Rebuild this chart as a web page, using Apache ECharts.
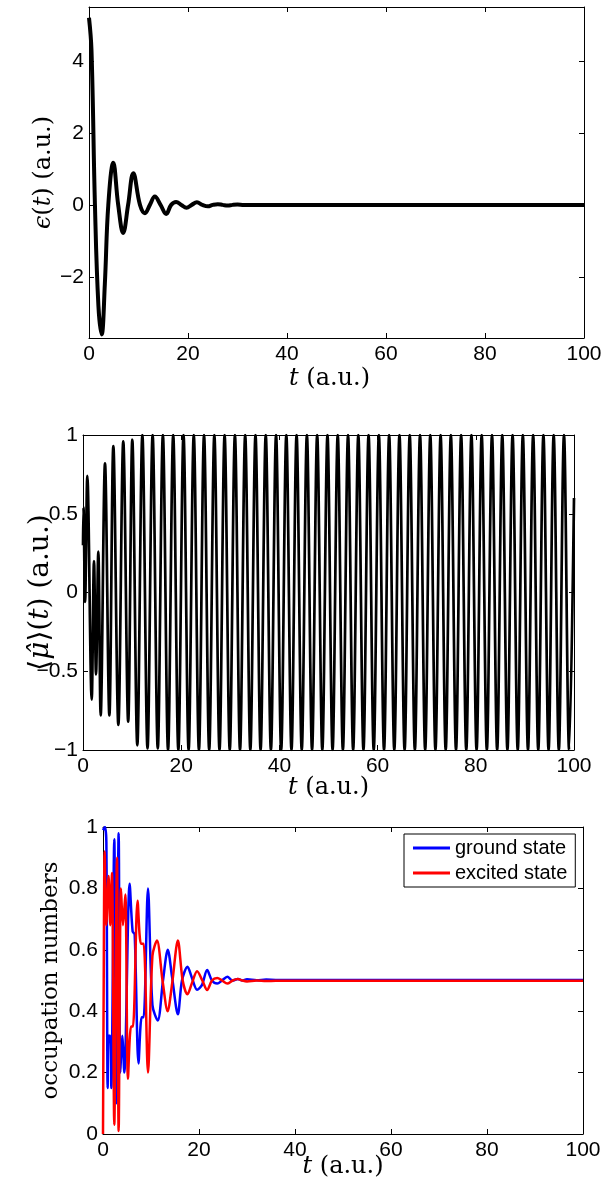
<!DOCTYPE html>
<html>
<head>
<meta charset="utf-8">
<script src="https://cdn.jsdelivr.net/npm/echarts@6/dist/echarts.min.js"></script>
<style>
html,body{margin:0;padding:0;background:#fff;}
#c{width:602px;height:1187px;}
</style>
</head>
<body>
<div id="c"></div>
<script>
// ---------- DATA ----------
// x ticks shared by all panels
const xTicks = [0, 20, 40, 60, 80, 100];
const epsTicks = [-2, 0, 2, 4];
const muTicks = [-1, -0.5, 0, 0.5, 1];
const occTicks = [0, 0.2, 0.4, 0.6, 0.8, 1];

// Panel 1: field epsilon(t)
const epsT = [0, 0.5, 1.2, 1.9, 2.56, 3.2, 3.9, 4.9, 5.9, 6.9, 7.9, 8.95, 10.3, 11.3, 12.3, 13.3, 14.45, 15.6, 16.6, 17.6, 18.65, 19.7, 20.75, 21.8, 22.9, 24, 25, 26, 27, 28, 29, 30, 31, 32, 34, 100];
const epsV = [5.2, 4.3, 0, -2.8, -3.6, -2.2, 0, 1.17, 0, -0.78, 0, 0.88, 0, -0.23, 0, 0.23, 0, -0.25, 0, 0.08, 0, -0.08, 0, 0.07, 0, -0.04, 0, 0.02, 0, -0.02, 0, 0.01, 0, -0.005, 0, 0];

// Panel 2: dipole <mu>(t) (extrema)
const muT = [0, 0.1, 0.42, 0.88, 1.77, 2.24, 2.65, 3.12, 3.6, 4.48, 5.37, 6.18, 7.2, 8.2, 9.2, 10.04, 11.06, 12.09, 13.14, 14.18, 15.23, 16.27, 17.32, 18.37, 19.42, 20.47, 21.51, 22.56, 23.61, 24.65, 25.7, 26.75, 27.8, 28.84, 29.89, 30.94, 31.98, 33.03, 34.08, 35.13, 36.17, 37.22, 38.27, 39.32, 40.36, 41.41, 42.46, 43.5, 44.55, 45.6, 46.65, 47.69, 48.74, 49.79, 50.83, 51.88, 52.93, 53.98, 55.02, 56.07, 57.12, 58.16, 59.21, 60.26, 61.31, 62.35, 63.4, 64.45, 65.5, 66.54, 67.59, 68.64, 69.69, 70.73, 71.78, 72.83, 73.87, 74.92, 75.97, 77.01, 78.06, 79.11, 80.16, 81.2, 82.25, 83.3, 84.35, 85.39, 86.44, 87.49, 88.54, 89.58, 90.63, 91.68, 92.72, 93.77, 94.82, 95.86, 96.91, 97.96, 99.01, 100];
const muV = [0.3, 0.54, -0.06, 0.74, -0.68, 0.2, -0.52, 0.26, -0.78, 0.82, -0.78, 0.93, -0.84, 0.96, -0.82, 0.97, -0.97, 1, -0.99, 1, -0.99, 1, -1, 1, -1, 1, -1, 1, -1, 1, -1, 1, -1, 1, -1, 1, -1, 1, -1, 1, -1, 1, -1, 1, -1, 1, -1, 1, -1, 1, -1, 1, -1, 1, -1, 1, -1, 1, -1, 1, -1, 1, -1, 1, -1, 1, -1, 1, -1, 1, -1, 1, -1, 1, -1, 1, -1, 1, -1, 1, -1, 1, -1, 1, -1, 1, -1, 1, -1, 1, -1, 1, -1, 1, -1, 1, -1, 1, -1, 1, -1, 0.6];

// Panel 3: occupation numbers
const groundT = [0, 0.4, 0.7, 0.97, 1.17, 1.52, 1.73, 2.35, 2.75, 3.26, 3.6, 4.0, 4.44, 5.55, 6.17, 6.6, 7.4, 8.05, 8.46, 9.37, 10.3, 11.4, 12.5, 13.5, 14.4, 15.6, 16.45, 17.6, 18.5, 19.6, 20.6, 21.7, 22.7, 23.8, 24.8, 25.9, 27, 28.1, 29, 30, 32, 34, 36, 40, 100];
const groundV = [0.99, 1.0, 0.95, 0.15, 0.32, 0.32, 0.15, 0.96, 0.10, 0.98, 0.2, 0.32, 0.2, 0.815, 0.66, 0.65, 0.23, 0.38, 0.38, 0.80, 0.42, 0.37, 0.5, 0.60, 0.51, 0.39, 0.5, 0.545, 0.51, 0.47, 0.485, 0.534, 0.5, 0.49, 0.5, 0.512, 0.5, 0.505, 0.5, 0.504, 0.501, 0.503, 0.502, 0.502, 0.502];
const excitedT = [0, 0.15, 0.34, 0.69, 1.17, 1.52, 1.87, 2.35, 2.91, 3.26, 3.74, 4.16, 4.65, 5.2, 5.83, 6.24, 7.2, 7.9, 8.46, 9.37, 10.3, 11.24, 12.4, 13.47, 14.4, 15.6, 16.6, 17.6, 18.5, 19.6, 20.7, 21.7, 22.7, 23.8, 24.8, 25.9, 27, 28.1, 29, 30, 32, 34, 36, 100];
const excitedV = [0.0, 0.5, 0.92, 0.68, 0.84, 0.68, 0.85, 0.03, 0.90, 0.01, 0.80, 0.68, 0.78, 0.18, 0.35, 0.35, 0.76, 0.62, 0.62, 0.2, 0.58, 0.63, 0.5, 0.40, 0.49, 0.63, 0.5, 0.455, 0.49, 0.53, 0.5, 0.469, 0.5, 0.508, 0.5, 0.49, 0.5, 0.505, 0.5, 0.497, 0.5, 0.498, 0.499, 0.499];

// ---------- BUILD ----------
const zip = (a, b) => a.map((v, i) => [v, b[i]]);
const minus = v => String(v).replace('-', '\u2212');

const TICK_FONT = { fontFamily: 'Liberation Sans', fontSize: 21, color: '#000' };
const NAME_FONT = { fontFamily: 'DejaVu Serif', fontSize: 23, color: '#000' };
const lineAx = { show: true, onZero: false, lineStyle: { color: '#000', width: 1 } };

const grids = [
  { left: 89, top: 7, width: 495, height: 331, outerBoundsMode: 'none', containLabel: false },
  { left: 83, top: 435, width: 491, height: 315, outerBoundsMode: 'none', containLabel: false },
  { left: 103, top: 827, width: 480, height: 307, outerBoundsMode: 'none', containLabel: false }
];

function xAxes(g, nameGap, namePad) {
  const base = { type: 'value', gridIndex: g, min: 0, max: 100, interval: 20,
    axisLine: lineAx, splitLine: { show: false },
    axisTick: { inside: true, length: 5, lineStyle: { color: '#000' } } };
  return [
    Object.assign({}, base, { position: 'bottom',
      axisLabel: Object.assign({ margin: 6, showMinLabel: true, showMaxLabel: true }, TICK_FONT),
      name: '{i|t} (a.u.)', nameLocation: 'middle', nameGap: nameGap, nameMoveOverlap: false,
      nameTextStyle: Object.assign({ padding: namePad, rich: { i: { fontStyle: 'italic', fontFamily: 'DejaVu Serif', fontSize: 24 } } }, NAME_FONT, { fontSize: 24 }) }),
    Object.assign({}, base, { position: 'top', axisLabel: { show: false } })
  ];
}

function yAxes(g, min, max, ticks, name, nameGap, fs) {
  const base = { type: 'value', gridIndex: g, min: min, max: max,
    axisLine: lineAx, splitLine: { show: false },
    axisTick: { inside: true, length: 5, customValues: ticks, lineStyle: { color: '#000' } } };
  return [
    Object.assign({}, base, { position: 'left',
      axisLabel: Object.assign({ margin: 5, customValues: ticks, showMinLabel: true, showMaxLabel: true, formatter: minus }, TICK_FONT),
      name: name, nameLocation: 'middle', nameGap: nameGap, nameRotate: 90, nameMoveOverlap: false,
      nameTextStyle: Object.assign({}, NAME_FONT, { fontSize: fs,
        rich: { i: { fontStyle: 'italic', fontFamily: 'DejaVu Serif', fontSize: fs } } }) }),
    Object.assign({}, base, { position: 'right', axisLabel: { show: false } })
  ];
}

const option = {
  animation: false,
  backgroundColor: '#fff',
  grid: grids,
  xAxis: [].concat(xAxes(0, 29, [0, 14, 0, 0]), xAxes(1, 26, 0), xAxes(2, 21, 0)),
  yAxis: [].concat(
    yAxes(0, -3.7, 5.5, epsTicks, '{i|\u03f5}({i|t}) (a.u.)', 33, 24),
    yAxes(1, -1, 1, muTicks, '\u27e8{i|\u03bc\u0302}\u27e9({i|t}) (a.u.)', 28, 28),
    yAxes(2, 0, 1, occTicks, 'occupation numbers', 40, 23)
  ),
  legend: {
    orient: 'vertical', left: 404, top: 834,
    backgroundColor: '#fff', borderColor: '#000', borderWidth: 1, borderRadius: 0,
    padding: [4, 8, 4, 9], itemGap: 5, itemWidth: 37, itemHeight: 3,
    icon: 'rect',
    textStyle: { fontFamily: 'Liberation Sans', fontSize: 20, color: '#000' },
    data: ['ground state', 'excited state']
  },
  series: [
    { name: 'eps', type: 'line', xAxisIndex: 0, yAxisIndex: 0, data: zip(epsT, epsV),
      showSymbol: false, symbol: 'none', smooth: 0.4, lineStyle: { color: '#000', width: 4 } },
    { name: 'mu', type: 'line', xAxisIndex: 2, yAxisIndex: 2, data: zip(muT, muV),
      showSymbol: false, symbol: 'none', smooth: 0.35, lineStyle: { color: '#000', width: 2.7 } },
    { name: 'ground state', type: 'line', xAxisIndex: 4, yAxisIndex: 4, data: zip(groundT, groundV),
      showSymbol: false, symbol: 'none', smooth: 0.3, color: '#0000ff', lineStyle: { color: '#0000ff', width: 2.5 } },
    { name: 'excited state', type: 'line', xAxisIndex: 4, yAxisIndex: 4, data: zip(excitedT, excitedV),
      showSymbol: false, symbol: 'none', smooth: 0.3, color: '#ff0000', lineStyle: { color: '#ff0000', width: 2.5 } }
  ]
};

const chart = echarts.init(document.getElementById('c'), null, { renderer: 'canvas' });
chart.setOption(option);
</script>
</body>
</html>
